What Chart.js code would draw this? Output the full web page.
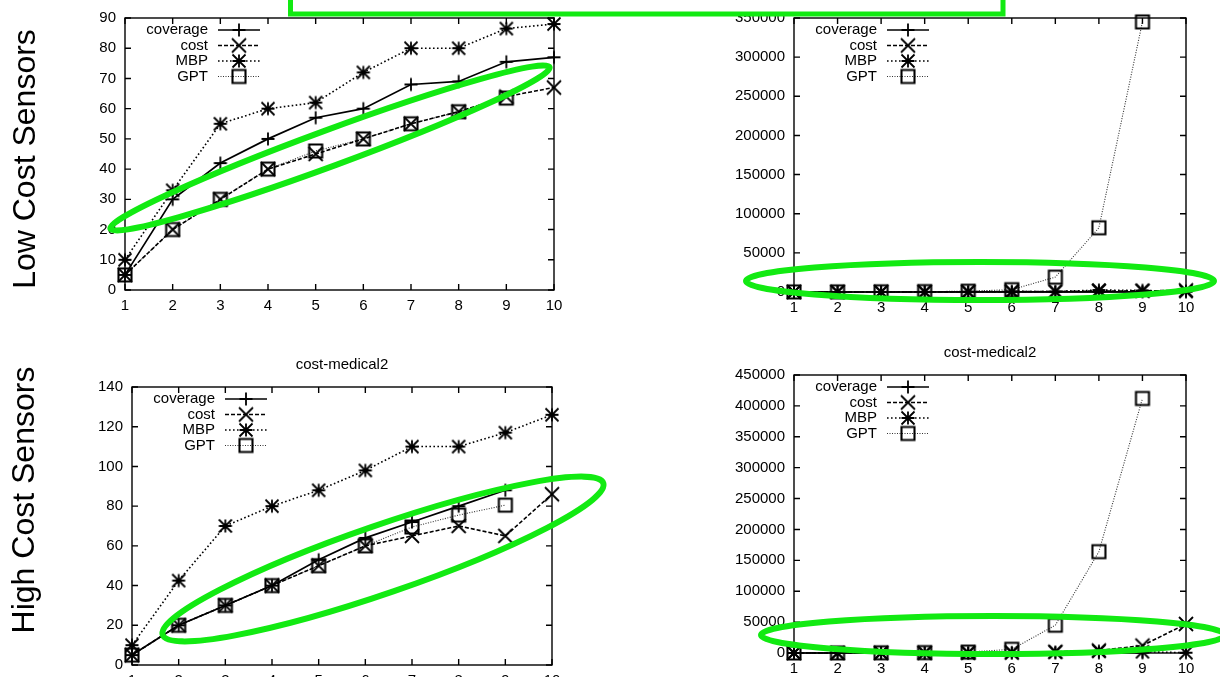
<!DOCTYPE html>
<html>
<head>
<meta charset="utf-8">
<script src="https://cdn.jsdelivr.net/npm/chart.js@4.4.1/dist/chart.umd.min.js"></script>
<style>
  html, body { margin: 0; padding: 0; background: #fff; width: 1220px; height: 677px; overflow: hidden; position: relative; }
  canvas { position: absolute; }
  #overlay { left: 0; top: 0; pointer-events: none; z-index: 5; }
</style>
</head>
<body>
<canvas id="lowQuality" width="600" height="335" style="left:0;top:0"></canvas>
<canvas id="lowTime" width="580" height="335" style="left:640px;top:0"></canvas>
<canvas id="highQuality" width="600" height="360" style="left:0;top:340px"></canvas>
<canvas id="highTime" width="580" height="360" style="left:640px;top:330px"></canvas>
<canvas id="overlay" width="1220" height="677"></canvas>
<script>
// ---- data ----------------------------------------------------------------
const steps = [1, 2, 3, 4, 5, 6, 7, 8, 9, 10];
const seriesNames = ['coverage', 'cost', 'MBP', 'GPT'];
const rowLabels = ['Low Cost Sensors', 'High Cost Sensors'];
const plotTitle = 'cost-medical2';

// low cost sensors: objective value
const lowValueCoverage = [5, 30, 42, 50, 57, 60, 68, 69, 75.5, 77];
const lowValueCost     = [5, 20, 30, 40, 45, 50, 55, 59, 64, 67];
const lowValueMBP      = [10, 33, 55, 60, 62, 72, 80, 80, 86.5, 88];
const lowValueGPT      = [5, 20, 30, 40, 46, 50, 55, 59, 63.5];

// low cost sensors: running time
const lowTimeCoverage = [5, 10, 20, 30, 50, 80, 120, 200, 300, 450];
const lowTimeCost     = [10, 30, 60, 100, 200, 400, 700, 1200, 1500, 2000];
const lowTimeMBP      = [20, 50, 100, 200, 400, 800, 600, 2500, 2000, 800];
const lowTimeGPT      = [100, 200, 300, 500, 1000, 3000, 19000, 82000, 345000];

// high cost sensors: objective value
const highValueCoverage = [5, 20, 30, 40, 53, 64, 72, 80, 88];
const highValueCost     = [5, 20, 30, 40, 50, 60, 65, 70, 65, 86];
const highValueMBP      = [10, 42.5, 70, 80, 88, 98, 110, 110, 117, 126];
const highValueGPT      = [5, 20, 30, 40, 50, 60, 69.5, 75.5, 80.5];

// high cost sensors: running time
const highTimeCoverage = [10, 20, 30, 50, 80, 120, 200, 300, 500];
const highTimeCost     = [50, 100, 200, 300, 500, 1000, 2000, 4000, 12000, 47000];
const highTimeMBP      = [20, 50, 100, 200, 300, 600, 1500, 3000, 2000, 500];
const highTimeGPT      = [100, 200, 400, 700, 1500, 6000, 45000, 164000, 412000];

// ---- look ----------------------------------------------------------------
const FONT = '"Liberation Sans", Arial, sans-serif';
Chart.defaults.font.family = FONT;
Chart.defaults.font.size = 15;
Chart.defaults.color = '#000';

// gnuplot-like point symbols
function makeMarker(kind) {
  const s = 20, m = s / 2, r = 6.5;
  const c = document.createElement('canvas');
  c.width = s; c.height = s;
  const g = c.getContext('2d');
  g.strokeStyle = '#000';
  g.lineWidth = kind === 'box' ? 2.1 : 1.8;
  g.beginPath();
  if (kind === 'plus' || kind === 'star') {
    g.moveTo(m - r, m); g.lineTo(m + r, m);
    g.moveTo(m, m - r); g.lineTo(m, m + r);
  }
  if (kind === 'cross' || kind === 'star') {
    const d = kind === 'cross' ? 7 : 6.5;
    g.moveTo(m - d, m - d); g.lineTo(m + d, m + d);
    g.moveTo(m - d, m + d); g.lineTo(m + d, m - d);
  }
  if (kind === 'box') g.rect(m - r, m - r, 2 * r, 2 * r);
  g.stroke();
  return c;
}
const seriesStyles = [
  { marker: makeMarker('plus'),  width: 1.7, dash: [],         color: '#000' },
  { marker: makeMarker('cross'), width: 1.6, dash: [4, 2],     color: '#000' },
  { marker: makeMarker('star'),  width: 1.6, dash: [1.6, 2.4], color: '#000' },
  { marker: makeMarker('box'),   width: 1.1, dash: [1, 1.5],   color: '#333' }
];

// border box with inward ticks on all four sides
const framePlugin = {
  id: 'frame',
  beforeDatasetsDraw(chart) {
    const { ctx, chartArea: a, scales: { x, y } } = chart;
    const t = 6;
    ctx.save();
    ctx.strokeStyle = '#000';
    ctx.lineWidth = 1.4;
    ctx.beginPath();
    x.ticks.forEach(k => {
      const px = x.getPixelForValue(k.value);
      ctx.moveTo(px, a.bottom); ctx.lineTo(px, a.bottom - t);
      ctx.moveTo(px, a.top);    ctx.lineTo(px, a.top + t);
    });
    y.ticks.forEach(k => {
      const py = y.getPixelForValue(k.value);
      ctx.moveTo(a.left, py);  ctx.lineTo(a.left + t, py);
      ctx.moveTo(a.right, py); ctx.lineTo(a.right - t, py);
    });
    ctx.stroke();
    ctx.strokeRect(a.left, a.top, a.right - a.left, a.bottom - a.top);
    ctx.restore();
  }
};

// key in the upper left corner: right-aligned names, then a line sample with its symbol
const keyPlugin = {
  id: 'key',
  afterDatasetsDraw(chart) {
    const { ctx, chartArea: a } = chart;
    const rowOffsets = [12, 27.5, 43, 58.5];
    ctx.save();
    chart.data.datasets.forEach((ds, i) => {
      const y = a.top + rowOffsets[i];
      ctx.font = '15px ' + FONT;
      ctx.fillStyle = '#000';
      ctx.textAlign = 'right';
      ctx.textBaseline = 'middle';
      ctx.fillText(ds.label, a.left + 83, y);
      ctx.strokeStyle = ds.borderColor;
      ctx.lineWidth = ds.borderWidth;
      ctx.setLineDash(ds.borderDash);
      ctx.beginPath();
      ctx.moveTo(a.left + 93, y);
      ctx.lineTo(a.left + 135, y);
      ctx.stroke();
      ctx.setLineDash([]);
      const img = ds.pointStyle;
      ctx.drawImage(img, a.left + 114 - img.width / 2, y - img.height / 2);
    });
    ctx.restore();
  }
};

function buildChart(id, seriesValues, yMax, yStep, geom, titleText) {
  const datasets = seriesValues.map((vals, i) => ({
    label: seriesNames[i],
    data: vals.map((v, j) => ({ x: steps[j], y: v })),
    borderColor: seriesStyles[i].color,
    borderWidth: seriesStyles[i].width,
    borderDash: seriesStyles[i].dash,
    pointStyle: seriesStyles[i].marker,
    pointRadius: 6,
    tension: 0,
    fill: false,
    clip: false
  }));
  return new Chart(document.getElementById(id), {
    type: 'line',
    data: { datasets },
    options: {
      responsive: false,
      animation: false,
      events: [],
      layout: { padding: { top: geom.padTop, right: geom.padRight, left: 0, bottom: 0 } },
      plugins: {
        legend: { display: false },
        tooltip: { enabled: false },
        title: titleText ? {
          display: true,
          text: titleText,
          fullSize: false,
          color: '#000',
          font: { size: 15, weight: 'normal' },
          padding: { top: geom.titleTop, bottom: geom.titleBottom }
        } : { display: false }
      },
      scales: {
        x: {
          type: 'linear', min: 1, max: 10,
          grid: { display: false, drawTicks: false },
          border: { display: false },
          ticks: { stepSize: 1, padding: 7, color: '#000' },
          afterFit: s => { s.height = geom.xHeight; }
        },
        y: {
          type: 'linear', min: 0, max: yMax,
          grid: { display: false, drawTicks: false },
          border: { display: false },
          ticks: { stepSize: yStep, padding: 9, color: '#000', callback: v => String(v) },
          afterFit: s => { s.width = geom.yWidth; }
        }
      }
    },
    plugins: [framePlugin, keyPlugin]
  });
}

buildChart('lowQuality', [lowValueCoverage, lowValueCost, lowValueMBP, lowValueGPT], 90, 10,
  { yWidth: 125, padRight: 46, padTop: 11, xHeight: 45 });
buildChart('lowTime', [lowTimeCoverage, lowTimeCost, lowTimeMBP, lowTimeGPT], 350000, 50000,
  { yWidth: 154, padRight: 34, padTop: 14, xHeight: 43 });
buildChart('highQuality', [highValueCoverage, highValueCost, highValueMBP, highValueGPT], 140, 20,
  { yWidth: 132, padRight: 48, padTop: 0, xHeight: 35, titleTop: 16, titleBottom: 13 }, plotTitle);
buildChart('highTime', [highTimeCoverage, highTimeCost, highTimeMBP, highTimeGPT], 450000, 50000,
  { yWidth: 154, padRight: 34, padTop: 0, xHeight: 37, titleTop: 14, titleBottom: 13 }, plotTitle);

// ---- row captions and green highlight marks --------------------------------
(function drawOverlay() {
  const ctx = document.getElementById('overlay').getContext('2d');
  ctx.save();
  ctx.fillStyle = '#000';
  ctx.font = '32px ' + FONT;
  ctx.textAlign = 'center';
  ctx.textBaseline = 'alphabetic';
  [[35, 159], [34, 500]].forEach(([bx, cy], i) => {
    ctx.save();
    ctx.translate(bx, cy);
    ctx.rotate(-Math.PI / 2);
    ctx.fillText(rowLabels[i], 0, 0);
    ctx.restore();
  });
  ctx.restore();

  const green = '#12ea12';
  ctx.strokeStyle = green;
  ctx.lineWidth = 6;
  const rings = [
    [330, 148, 234, 18, -20.2],
    [980, 281, 234, 19, 0],
    [383, 559, 233, 34, -19],
    [993, 635, 232, 19, 0]
  ];
  rings.forEach(([cx, cy, rx, ry, deg]) => {
    ctx.beginPath();
    ctx.ellipse(cx, cy, rx, ry, deg * Math.PI / 180, 0, Math.PI * 2);
    ctx.stroke();
  });
  ctx.fillStyle = '#fff';
  ctx.fillRect(290.5, -10, 712.5, 24);
  ctx.lineWidth = 5;
  ctx.strokeRect(290.5, -10, 712.5, 24);
})();
</script>
</body>
</html>
